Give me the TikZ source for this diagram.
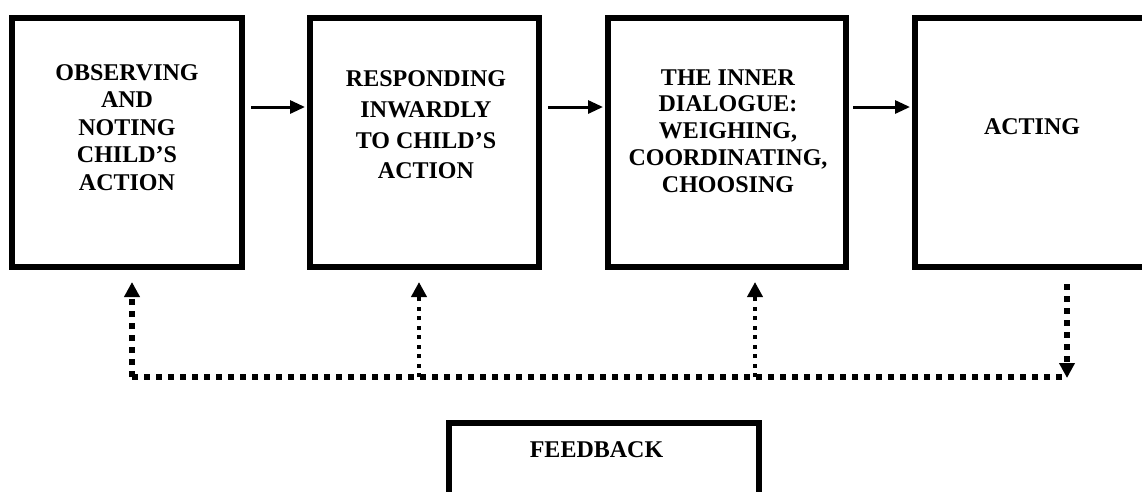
\documentclass[tikz,border=0pt]{standalone}
\usepackage{fontspec}
\setmainfont{Liberation Serif}
\usetikzlibrary{positioning,calc,arrows.meta}

\tikzset{
  stagebox/.style={draw, line width=6pt, minimum height=249pt, inner sep=0pt},
  stagetext/.style={font=\fontsize{24}{27.6}\selectfont\bfseries, align=center, inner sep=0pt},
  flow/.style={line width=3pt, -{Triangle[length=15pt,width=13pt]}},
  loopthick/.style={line width=6pt, dash pattern=on 6pt off 6pt},
  loopthin/.style={line width=4pt, dash pattern=on 4pt off 5.5pt},
  looptip/.style={-{Triangle[length=15pt,width=15pt]}},
}

\begin{document}
\begin{tikzpicture}[x=1pt,y=-1pt]
	\clip (0,0) rectangle (1142,491);
	
	% the four stages
	\node[stagebox, minimum width=230pt] (observe) at (127,142.5) {};
	\node[stagebox, minimum width=229pt] (respond) at (424.5,142.5) {};
	\node[stagebox, minimum width=238pt] (dialogue) at (727,142.5) {};
	\node[stagebox, minimum width=234pt] (act) at (1032,142.5) {};
	\node[draw, line width=6pt, minimum width=310pt, minimum height=120pt] (feedback) at (604,483) {};
	
	\node[stagetext] (observetext) at (127,127.5) {OBSERVING\\AND\\NOTING\\CHILD’S\\ACTION};
	\node[stagetext, font=\fontsize{24}{30.7}\selectfont\bfseries] (respondtext) at (426,125) {RESPONDING\\INWARDLY\\TO CHILD’S\\ACTION};
	\node[stagetext, font=\fontsize{24}{26.8}\selectfont\bfseries] (dialoguetext) at (728,131) {THE INNER\\DIALOGUE:\\WEIGHING,\\COORDINATING,\\CHOOSING};
	\node[stagetext] (acttext) at (1032,126.5) {ACTING};
	\node[stagetext] (feedbacktext) at (596.5,450) {FEEDBACK};
	
	% forward arrows
	\draw[flow] ($(observe.east)+(6,-35.5)$) -- ($(respond.west)+(-2,-35.5)$);
	\draw[flow] ($(respond.east)+(6,-35.5)$) -- ($(dialogue.west)+(-2,-35.5)$);
	\draw[flow] ($(dialogue.east)+(4,-35.5)$) -- ($(act.west)+(-2,-35.5)$);
	
	% feedback loop
	\coordinate (tipA) at ($(observe.south)+(5,12)$);
	\coordinate (tipB) at ($(respond.south)+(-5.5,12)$);
	\coordinate (tipC) at ($(dialogue.south)+(28,12)$);
	\coordinate (startD) at ($(act.south)+(35,14)$);
	\coordinate (loopL) at (tipA |- 0,377);
	\coordinate (loopR) at (startD |- 0,377);
	
	\draw[loopthick] (loopL) -- (loopR);
	\draw[loopthick, looptip] (loopL) -- (tipA);
	\draw[loopthin, looptip] (tipB |- loopL) -- (tipB);
	\draw[loopthin, looptip] (tipC |- loopL) -- (tipC);
	\draw[loopthick, looptip] (startD) -- ($(loopR)+(0,1)$);
\end{tikzpicture}
\end{document}
